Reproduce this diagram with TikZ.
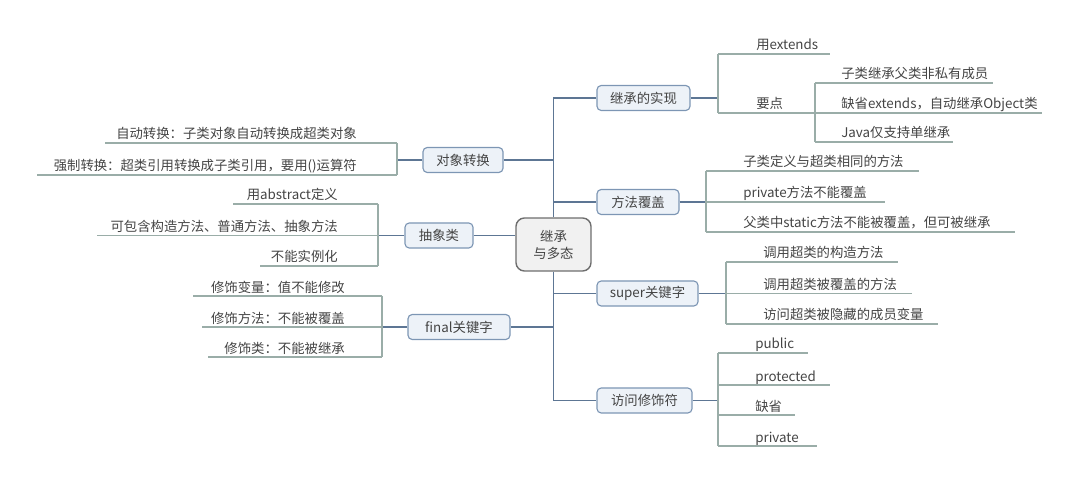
\documentclass[tikz,border=0pt]{standalone}
\usepackage{fontspec}
\setmainfont{Noto Sans CJK SC}
\usetikzlibrary{positioning}

\definecolor{trunkline}{HTML}{5D7694}
\definecolor{twigline}{HTML}{9AADA8}
\definecolor{boxedge}{HTML}{7D96B4}
\definecolor{boxfill}{HTML}{EDF2F8}
\definecolor{rootedge}{HTML}{6E6E6E}
\definecolor{rootfill}{HTML}{F1F1F1}
\definecolor{inktext}{HTML}{444444}

\tikzset{
    mapfont/.style={font=\fontsize{9.5}{12}\selectfont, text=inktext},
    topic/.style={mapfont, draw=boxedge, fill=boxfill, line width=0.8pt,
        rounded corners=3pt, inner sep=0pt, minimum height=0.625cm,
        minimum width={#1*0.025cm}},
    rootbox/.style={mapfont, draw=rootedge, fill=rootfill, line width=1pt,
        rounded corners=6pt, align=center, inner sep=0pt,
        minimum width=1.875cm, minimum height=1.325cm},
    leaf/.style={mapfont, inner sep=0pt},
    trunk/.style={draw=trunkline, line width=0.9pt},
    twig/.style={draw=twigline, line width=0.8pt},
}

\begin{document}
\begin{tikzpicture}[x=0.025cm, y=-0.025cm]
    \useasboundingbox (0,0) rectangle (1080,485);
    % centre and topics
    \node[rootbox] (root) at (553.5,244.5) {继承\\与多态};
    \node[topic=93]  (impl)     at (643.5,98)    {继承的实现};
    \node[topic=82]  (override) at (638,202)     {方法覆盖};
    \node[topic=101] (super)    at (647.5,293.5) {super关键字};
    \node[topic=95]  (access)   at (644.5,400.5) {访问修饰符};
    \node[topic=80]  (cast)     at (463,160)     {对象转换};
    \node[topic=68]  (abstr)    at (439,235.5)   {抽象类};
    \node[topic=102] (final)    at (459,327)     {final关键字};

    % trunk
    \coordinate (trunkTop) at (553.5,98);
    \coordinate (trunkBot) at (553.5,400.5);
    \draw[trunk] (root.north) -- (trunkTop) -- (impl.west);
    \draw[trunk] (root.south) -- (trunkBot) -- (access.west);
    \draw[trunk] (override.west -| root.center) -- (override.west);
    \draw[trunk] (super.west -| root.center) -- (super.west);
    \draw[trunk] (cast.east) -- (cast.east -| root.center);
    \draw[trunk] (final.east) -- (final.east -| root.center);
    \draw[trunk] (abstr.east) -- (abstr.east -| root.west);

    % stubs to the branch forks
    \coordinate (implFork) at (718,98);
    \coordinate (overrideFork) at (706,202);
    \coordinate (superFork) at (726,293.5);
    \coordinate (accessFork) at (718,400.5);
    \coordinate (castFork) at (397,160);
    \coordinate (abstrFork) at (378,235.5);
    \coordinate (finalFork) at (382,327);
    \draw[trunk] (impl.east) -- (implFork);
    \draw[trunk] (override.east) -- (overrideFork);
    \draw[trunk] (super.east) -- (superFork);
    \draw[trunk] (access.east) -- (accessFork);
    \draw[trunk] (cast.west) -- (castFork);
    \draw[trunk] (abstr.west) -- (abstrFork);
    \draw[trunk] (final.west) -- (finalFork);

    % fork bars
    \draw[twig] (718,54) -- (718,113);
    \draw[twig] (815,83) -- (815,142);
    \draw[twig] (706,171) -- (706,232);
    \draw[twig] (726,262) -- (726,324);
    \draw[twig] (718,353) -- (718,446);
    \draw[twig] (397,143) -- (397,175);
    \draw[twig] (378,204) -- (378,266);
    \draw[twig] (382,296) -- (382,357);

    % right leaves
    \foreach \yu/\xe/\txt [count=\i] in {54/830/{用extends}, 113/815/{要点}} {
        \node[leaf, anchor=base west] (impl-\i) at (756,\yu-4) {\txt};
        \draw[twig] (718,\yu) -- (\xe,\yu);
    }
    \foreach \yu/\xe/\txt [count=\i] in {83/993/{子类继承父类非私有成员},
            113/1042/{缺省extends，自动继承Object类}, 142/953/{Java仅支持单继承}} {
        \node[leaf, anchor=base west] (point-\i) at (841,\yu-4) {\txt};
        \draw[twig] (815,\yu) -- (\xe,\yu);
    }
    \foreach \yu/\xe/\txt [count=\i] in {171/919/{子类定义与超类相同的方法},
            202/885/{private方法不能覆盖}, 232/1015/{父类中static方法不能被覆盖，但可被继承}} {
        \node[leaf, anchor=base west] (override-\i) at (743,\yu-4) {\txt};
        \draw[twig] (706,\yu) -- (\xe,\yu);
    }
    \foreach \yu/\xe/\txt [count=\i] in {262/898/{调用超类的构造方法},
            293.5/912/{调用超类被覆盖的方法}, 324/938/{访问超类被隐藏的成员变量}} {
        \node[leaf, anchor=base west] (super-\i) at (763,\yu-4) {\txt};
        \draw[twig] (726,\yu) -- (\xe,\yu);
    }
    \foreach \yu/\xe/\txt [count=\i] in {353/808/{public}, 385/830/{protected},
            415/795/{缺省}, 446/817/{private}} {
        \node[leaf, anchor=base west] (access-\i) at (755,\yu-4) {\txt};
        \draw[twig] (718,\yu) -- (\xe,\yu);
    }

    % left leaves
    \foreach \yu/\xs/\txt [count=\i] in {143/105/{自动转换：子类对象自动转换成超类对象},
            175/37/{强制转换：超类引用转换成子类引用，要用()运算符}} {
        \node[leaf, anchor=base east] (cast-\i) at (357,\yu-4) {\txt};
        \draw[twig] (\xs,\yu) -- (397,\yu);
    }
    \foreach \yu/\xs/\txt [count=\i] in {204/233/{用abstract定义},
            235.5/97/{可包含构造方法、普通方法、抽象方法}, 266/260/{不能实例化}} {
        \node[leaf, anchor=base east] (abstr-\i) at (338,\yu-4) {\txt};
        \draw[twig] (\xs,\yu) -- (378,\yu);
    }
    \foreach \yu/\xs/\txt [count=\i] in {296/193/{修饰变量：值不能修改},
            327/202/{修饰方法：不能被覆盖}, 357/208/{修饰类：不能被继承}} {
        \node[leaf, anchor=base east] (final-\i) at (345,\yu-4) {\txt};
        \draw[twig] (\xs,\yu) -- (382,\yu);
    }
\end{tikzpicture}
\end{document}
